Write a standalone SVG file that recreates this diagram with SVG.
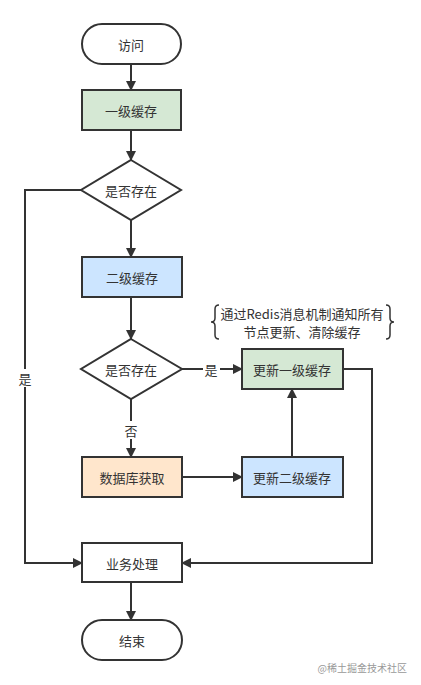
<svg xmlns="http://www.w3.org/2000/svg" width="421" height="685" viewBox="0 0 421 685">
<defs>
<marker id="ah" markerWidth="10" markerHeight="10" refX="9" refY="5" orient="auto" markerUnits="userSpaceOnUse">
<path d="M0,0 L10,5 L0,10 Z" fill="#333"/>
</marker>
<style>
.n{stroke:#333;stroke-width:2}
.t{font-family:"Noto Sans CJK SC","Noto Sans",sans-serif;font-size:13px;fill:#333;text-anchor:middle;dominant-baseline:central}
.e{fill:none;stroke:#333;stroke-width:2}
</style>
</defs>
<rect width="421" height="685" fill="#fff"/>
<g id="connectors">
<path class="e" d="M131,65 V90" marker-end="url(#ah)"/>
<path class="e" d="M131,130 V160" marker-end="url(#ah)"/>
<path class="e" d="M131,220 V257" marker-end="url(#ah)"/>
<path class="e" d="M131,297 V339" marker-end="url(#ah)"/>
<path class="e" d="M131,399 V457" marker-end="url(#ah)"/>
<rect x="123" y="421" width="16" height="18" fill="#fff"/>
<text class="t" x="131" y="430">否</text>
<path class="e" d="M182,369 H242" marker-end="url(#ah)"/>
<rect x="203" y="360" width="17" height="18" fill="#fff"/>
<text class="t" x="211" y="369">是</text>
<path class="e" d="M182,477 H242" marker-end="url(#ah)"/>
<path class="e" d="M292,457 V389" marker-end="url(#ah)"/>
<path class="e" d="M81,190 H25 V563 H82" marker-end="url(#ah)"/>
<rect x="16" y="369" width="17" height="18" fill="#fff"/>
<text class="t" x="25" y="378">是</text>
<path class="e" d="M343,369 H372 V563 H182" marker-end="url(#ah)"/>
<path class="e" d="M131,582 V620" marker-end="url(#ah)"/>
</g>
<g id="n1"><rect class="n" x="82" y="24" width="99" height="40" rx="20" fill="#fff"/><text class="t" x="131" y="44">访问</text></g>
<g id="n2"><rect class="n" x="82" y="90" width="99" height="40" fill="#d5e8d4"/><text class="t" x="131" y="110">一级缓存</text></g>
<g id="n3"><polygon class="n" points="131,160 181,190 131,220 81,190" fill="#fff"/><text class="t" x="131" y="190">是否存在</text></g>
<g id="n4"><rect class="n" x="82" y="257" width="100" height="40" fill="#cce5ff"/><text class="t" x="132" y="277">二级缓存</text></g>
<g id="n5"><polygon class="n" points="131,339 182,369 131,399 81,369" fill="#fff"/><text class="t" x="131" y="369">是否存在</text></g>
<g id="n6"><rect class="n" x="242" y="349" width="101" height="40" fill="#d5e8d4"/><text class="t" x="292" y="369">更新一级缓存</text></g>
<g id="note">
<path d="M219,305 Q215,305 215,309 V318 Q215,322 211,322 Q215,322 215,326 V335 Q215,339 219,339" fill="none" stroke="#333" stroke-width="1.5"/>
<path d="M386,305 Q390,305 390,309 V318 Q390,322 394,322 Q390,322 390,326 V335 Q390,339 386,339" fill="none" stroke="#333" stroke-width="1.5"/>
<text class="t" x="302" y="313.5">通过Redis消息机制通知所有</text>
<text class="t" x="302" y="331">节点更新、清除缓存</text>
</g>
<g id="n7"><rect class="n" x="82" y="457" width="100" height="40" fill="#ffe6cc"/><text class="t" x="132" y="477">数据库获取</text></g>
<g id="n8"><rect class="n" x="242" y="457" width="101" height="40" fill="#cce5ff"/><text class="t" x="292" y="477">更新二级缓存</text></g>
<g id="n9"><rect class="n" x="82" y="543" width="100" height="39" fill="#fff"/><text class="t" x="132" y="563">业务处理</text></g>
<g id="n10"><rect class="n" x="82" y="620" width="100" height="40" rx="20" fill="#fff"/><text class="t" x="132" y="640">结束</text></g>
<text x="407" y="667" font-family="'Noto Sans CJK SC',sans-serif" font-size="10" fill="#999" text-anchor="end" dominant-baseline="central">@稀土掘金技术社区</text>
</svg>
